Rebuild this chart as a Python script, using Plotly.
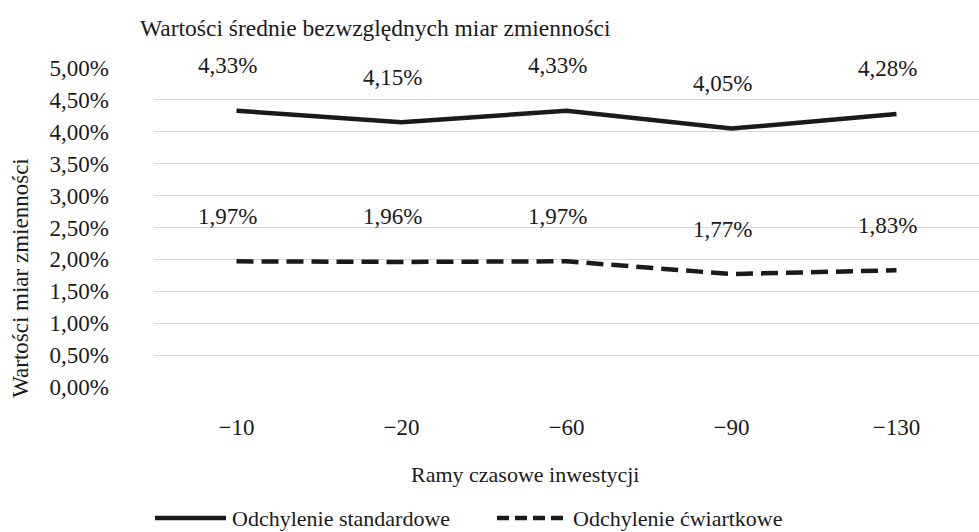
import plotly.graph_objects as go

categories = ["−10", "−20", "−60", "−90", "−130"]
std_dev = [0.0433, 0.0415, 0.0433, 0.0405, 0.0428]
quart_dev = [0.0197, 0.0196, 0.0197, 0.0177, 0.0183]
series_names = ["Odchylenie standardowe", "Odchylenie ćwiartkowe"]
title_text = "Wartości średnie bezwzględnych miar zmienności"
x_title = "Ramy czasowe inwestycji"
y_title = "Wartości miar zmienności"

FONT = "Liberation Serif"
INK = "#1a1a1a"
W, H = 979, 532
L, R, T, B = 154, 0, 67.5, 144.5
PW, PH = W - L - R, H - T - B


def px_x(p):
    return (p - L) / PW


def px_y(p):
    return (H - B - p) / PH


def fmt(v):
    return f"{v * 100:.2f}%".replace(".", ",")


fig = go.Figure()
fig.add_trace(go.Scatter(x=categories, y=std_dev, mode="lines", name=series_names[0],
                         line=dict(color=INK, width=4.5), showlegend=False))
fig.add_trace(go.Scatter(x=categories, y=quart_dev, mode="lines", name=series_names[1],
                         line=dict(color=INK, width=4.5, dash="17px,8px"), showlegend=False))

annotations = []
for series in (std_dev, quart_dev):
    for c, v in zip(categories, series):
        annotations.append(dict(x=c, y=v, text=fmt(v), showarrow=False, xref="x", yref="y",
                                yshift=45, xshift=-9, font=dict(family=FONT, size=23, color=INK)))

annotations.append(dict(x=px_x(138), y=px_y(27), xref="paper", yref="paper", text=title_text,
                        showarrow=False, xanchor="left", yanchor="middle",
                        font=dict(family=FONT, size=23.5, color=INK)))
annotations.append(dict(x=px_x(21), y=px_y(278), xref="paper", yref="paper", text=y_title,
                        showarrow=False, textangle=-90, xanchor="center", yanchor="middle",
                        font=dict(family=FONT, size=23, color=INK)))
annotations.append(dict(x=px_x(525), y=px_y(475), xref="paper", yref="paper", text=x_title,
                        showarrow=False, xanchor="center", yanchor="middle",
                        font=dict(family=FONT, size=22, color=INK)))

# legend (manual)
leg_y = px_y(519)
shapes = [
    dict(type="line", xref="paper", yref="paper", x0=px_x(155), x1=px_x(226), y0=leg_y, y1=leg_y,
         line=dict(color=INK, width=4.5)),
    dict(type="line", xref="paper", yref="paper", x0=px_x(497), x1=px_x(566), y0=leg_y, y1=leg_y,
         line=dict(color=INK, width=4.5, dash="12px,6px")),
]
annotations.append(dict(x=px_x(230), y=leg_y, xref="paper", yref="paper", text=series_names[0],
                        showarrow=False, xanchor="left", yanchor="middle",
                        font=dict(family=FONT, size=22, color=INK)))
annotations.append(dict(x=px_x(571), y=leg_y, xref="paper", yref="paper", text=series_names[1],
                        showarrow=False, xanchor="left", yanchor="middle",
                        font=dict(family=FONT, size=22, color=INK)))

fig.update_layout(
    width=W, height=H, autosize=False,
    margin=dict(l=L, r=R, t=T, b=B, pad=0),
    paper_bgcolor="white", plot_bgcolor="white",
    separators=",.",
    font=dict(family=FONT, size=22, color=INK),
    annotations=annotations, shapes=shapes,
    xaxis=dict(type="category", range=[-0.5, len(categories) - 0.5], showgrid=False,
               zeroline=False, showline=False, ticks="",
               ticklabelstandoff=24, tickfont=dict(family=FONT, size=23, color=INK)),
    yaxis=dict(range=[0, 0.05], dtick=0.005, tickformat=".2%", showgrid=True,
               gridcolor="#d9d9d9", gridwidth=1.3, zeroline=False, showline=False, ticks="",
               ticklabelstandoff=44, tickfont=dict(family=FONT, size=23, color=INK)),
)

fig.write_html("out.html", config={"displayModeBar": False},
               post_script="document.body.style.margin='0';document.body.style.overflow='hidden';")
